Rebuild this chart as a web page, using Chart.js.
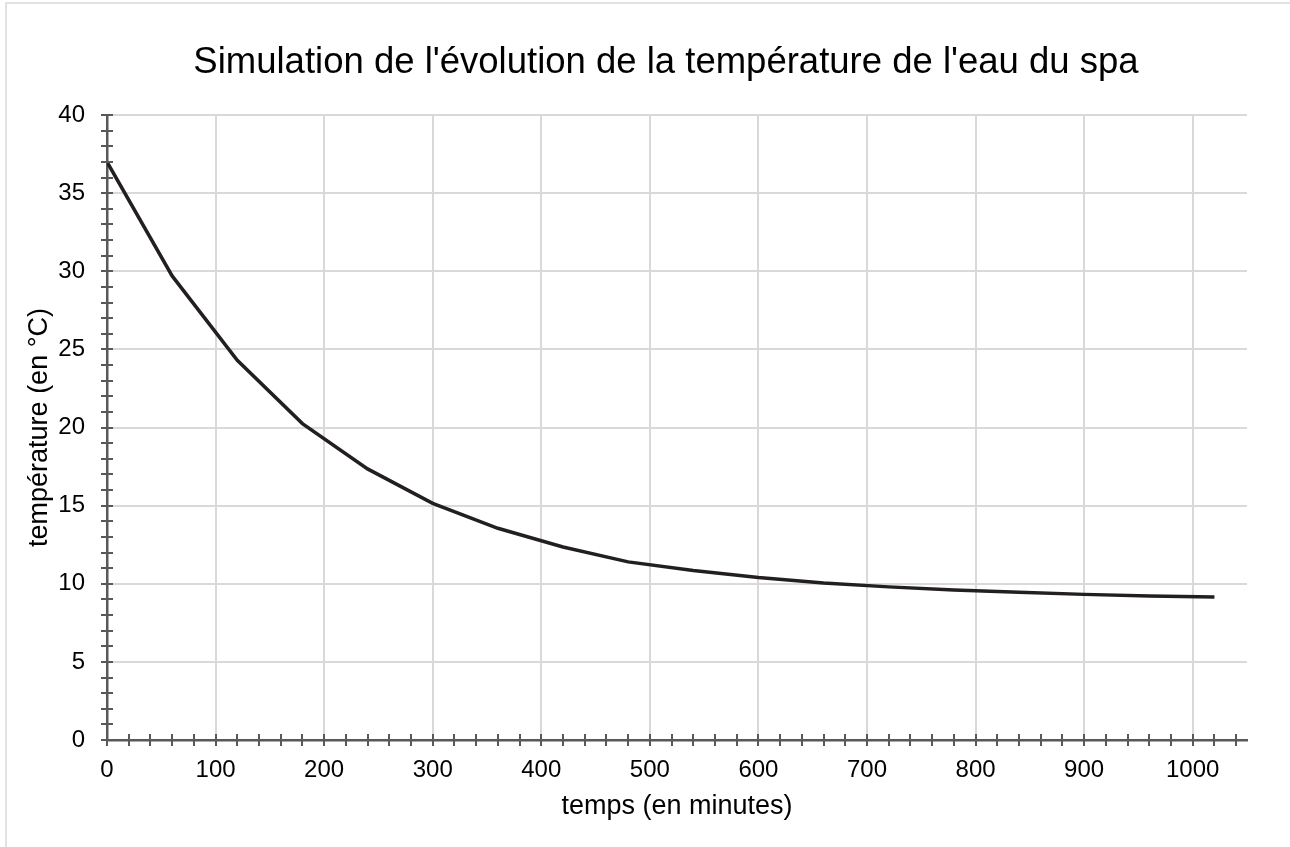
<!DOCTYPE html>
<html>
<head>
<meta charset="utf-8">
<script src="https://cdn.jsdelivr.net/npm/chart.js@4.4.1/dist/chart.umd.min.js"></script>
<style>
html,body{margin:0;padding:0;background:#fff;}
#wrap{width:1290px;height:847px;position:relative;}
</style>
</head>
<body>
<div id="wrap"><canvas id="c" width="1290" height="847"></canvas></div>
<script>
const chartTitle = "Simulation de l'évolution de la température de l'eau du spa";
const xTitle = "temps (en minutes)";
const yTitle = "température (en °C)";
const temps = [0, 60, 120, 180, 240, 300, 360, 420, 480, 540, 600, 660, 720, 780, 840, 900, 960, 1020];
const temperature = [37.0, 29.7, 24.3, 20.25, 17.35, 15.15, 13.55, 12.35, 11.4, 10.85, 10.4, 10.05, 9.8, 9.6, 9.45, 9.32, 9.22, 9.15];
const xTickLabels = [0, 100, 200, 300, 400, 500, 600, 700, 800, 900, 1000];
const yTickLabels = [0, 5, 10, 15, 20, 25, 30, 35, 40];
const xMinorStep = 20, xMin = 0, xMax = 1050, xMinorMax = 1040;
const yMinorStep = 1, yMin = 0, yMax = 40;

const FONT = "'Liberation Sans', Arial, sans-serif";
const AXIS_COLOR = '#595959';
const GRID_COLOR = '#d9d9d9';

const decorPlugin = {
  id: 'decor',
  beforeDraw(chart) {
    const ctx = chart.ctx;
    ctx.save();
    ctx.strokeStyle = '#d9d9d9';
    ctx.lineWidth = 1.5;
    ctx.strokeRect(6, 3, 1300, 900);
    ctx.restore();
  },
  afterDraw(chart) {
    const ctx = chart.ctx;
    const xs = chart.scales.x, ys = chart.scales.y;
    const ax = xs.getPixelForValue(xMin), ay = ys.getPixelForValue(yMin);
    ctx.save();
    ctx.strokeStyle = AXIS_COLOR;
    ctx.lineWidth = 2;
    ctx.beginPath();
    for (let v = xMin; v <= xMinorMax + 1e-9; v += xMinorStep) {
      const p = Math.round(xs.getPixelForValue(v));
      ctx.moveTo(p, ay - 6); ctx.lineTo(p, ay + 6);
    }
    for (let v = yMin; v <= yMax + 1e-9; v += yMinorStep) {
      const p = Math.round(ys.getPixelForValue(v));
      ctx.moveTo(ax - 6, p); ctx.lineTo(ax + 6, p);
    }
    ctx.stroke();
    // chart title
    ctx.fillStyle = '#000';
    ctx.font = "36.5px " + FONT;
    ctx.textAlign = 'center';
    ctx.textBaseline = 'middle';
    ctx.fillText(chartTitle, 666, 63);
    ctx.restore();
  }
};

new Chart(document.getElementById('c'), {
  type: 'line',
  data: {
    datasets: [{
      data: temps.map((t, i) => ({x: t, y: temperature[i]})),
      borderColor: '#231f20',
      borderWidth: 3.5,
      pointRadius: 0,
      tension: 0,
      fill: false
    }]
  },
  options: {
    responsive: false,
    animation: false,
    devicePixelRatio: 1,
    layout: {padding: {top: 115, right: 43, left: 0, bottom: 0}},
    plugins: {legend: {display: false}, tooltip: {enabled: false}, title: {display: false}},
    scales: {
      x: {
        type: 'linear', min: xMin, max: xMax,
        afterFit(s) { s.height = 107; },
        afterBuildTicks(s) { s.ticks = xTickLabels.map(v => ({value: v})); },
        ticks: {color: '#000', font: {family: FONT, size: 24}, padding: 16, maxRotation: 0, autoSkip: false,
                callback: v => String(v)},
        grid: {color: GRID_COLOR, lineWidth: 2, drawTicks: false},
        border: {display: true, color: AXIS_COLOR, width: 2.5},
        title: {display: true, text: xTitle, color: '#000', font: {family: FONT, size: 27}, padding: {top: 0, bottom: 24}}
      },
      y: {
        type: 'linear', min: yMin, max: yMax,
        afterFit(s) { s.width = 107; },
        afterBuildTicks(s) { s.ticks = yTickLabels.map(v => ({value: v})); },
        ticks: {color: '#000', font: {family: FONT, size: 24}, padding: 22, callback: v => String(v)},
        grid: {color: GRID_COLOR, lineWidth: 2, drawTicks: false},
        border: {display: true, color: AXIS_COLOR, width: 2.5},
        title: {display: true, text: yTitle, color: '#000', font: {family: FONT, size: 27}, padding: {top: 23, bottom: 0}}
      }
    }
  },
  plugins: [decorPlugin]
});
</script>
</body>
</html>
